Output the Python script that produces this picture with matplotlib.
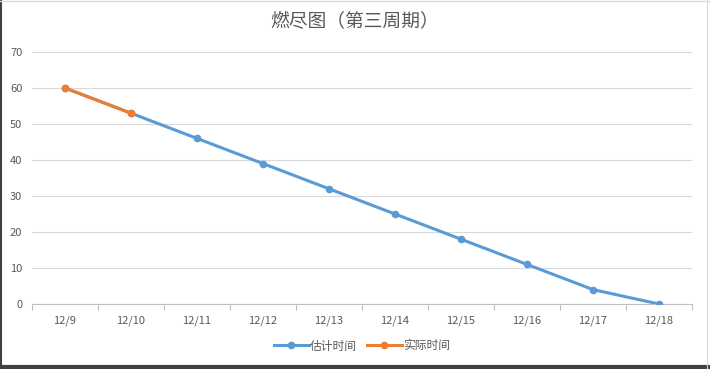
import matplotlib.pyplot as plt
from matplotlib.lines import Line2D

plt.rcParams['font.family'] = ['Noto Sans CJK SC', 'DejaVu Sans']

# data
dates = ['12/9', '12/10', '12/11', '12/12', '12/13', '12/14', '12/15', '12/16', '12/17', '12/18']
estimated = [60, 53, 46, 39, 32, 25, 18, 11, 4, 0]
actual = [60, 53]

blue = '#5B9BD5'
orange = '#ED7D31'
text_gray = '#595959'

fig = plt.figure(figsize=(7.10, 3.69), dpi=100)
ax = fig.add_axes([32 / 710, 1 - 304 / 369, 660 / 710, 252 / 369])

x = list(range(len(dates)))
ax.plot(x, estimated, color=blue, lw=2.2, marker='o', ms=4.5, label='估计时间', zorder=3)
ax.plot(x[:len(actual)], actual, color=orange, lw=2.2, marker='o', ms=4.5, label='实际时间', zorder=4)

ax.set_xlim(-0.5, len(dates) - 0.5)
ax.set_ylim(0, 70)
ax.set_yticks(range(0, 71, 10))
ax.set_xticks(x)
ax.set_xticklabels(dates)
ax.set_xticks([i - 0.5 for i in range(len(dates) + 1)], minor=True)

ax.grid(axis='y', color='#D9D9D9', lw=0.8)
ax.set_axisbelow(True)
for s in ['top', 'right', 'left']:
    ax.spines[s].set_visible(False)
ax.spines['bottom'].set_color('#BFBFBF')
ax.spines['bottom'].set_linewidth(0.8)

ax.tick_params(axis='y', length=0, labelsize=8, labelcolor=text_gray, pad=7)
ax.tick_params(axis='x', which='major', length=0, labelsize=8, labelcolor=text_gray, pad=8)
ax.tick_params(axis='x', which='minor', length=4, color='#BFBFBF', width=0.8)

fig.text(0.5, 1 - 22 / 369, '燃尽图（第三周期）', ha='center', va='center',
         fontsize=13.5, color=text_gray)

ax.legend(loc='center', bbox_to_anchor=(0.5, (304 - 346) / 252), ncol=2, frameon=False,
          fontsize=8.5, labelcolor=text_gray, handlelength=3.0, handletextpad=0.1,
          columnspacing=0.8)

# window frame edges
fig.add_artist(Line2D([1 / 710, 1 / 710], [0, 1], color='#404040', lw=1.5))
fig.add_artist(Line2D([0, 1], [2 / 369, 2 / 369], color='#404040', lw=3))
fig.add_artist(Line2D([0, 1], [1 - 1 / 369, 1 - 1 / 369], color='#D9D9D9', lw=1))
fig.add_artist(Line2D([1 - 3 / 710, 1 - 3 / 710], [0, 1], color='#D9D9D9', lw=0.8))

fig.savefig('out.png', dpi=100)
